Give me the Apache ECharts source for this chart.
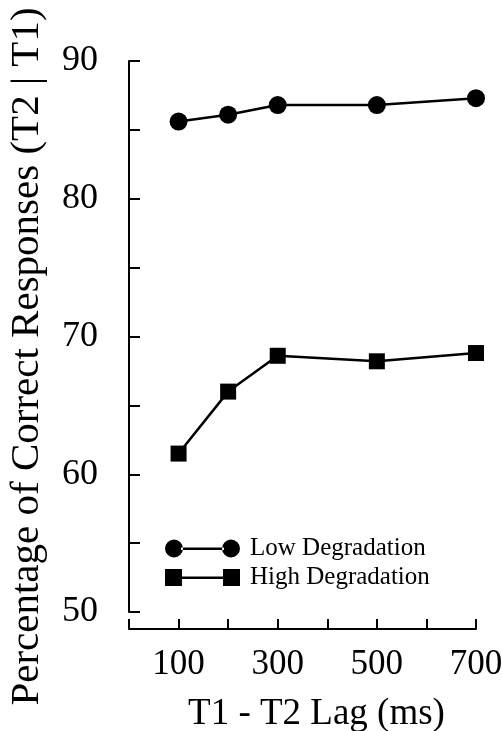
<!DOCTYPE html>
<html>
<head>
<meta charset="utf-8">
<script src="https://cdn.jsdelivr.net/npm/echarts@6/dist/echarts.min.js"></script>
<style>
  html, body { margin: 0; padding: 0; background: #fff; }
  #chart { width: 502px; height: 731px; }
</style>
</head>
<body>
<div id="chart"></div>
<script>
// lag values (ms) and percentage correct
var lags = [100, 200, 300, 500, 700];
var lowDegradation = [85.6, 86.1, 86.8, 86.8, 87.3];
var highDegradation = [61.5, 66.0, 68.6, 68.2, 68.8];
var xLabelsShown = [100, 300, 500, 700];
var yLabelsShown = [50, 60, 70, 80, 90];

var serif = 'Liberation Serif';

function pairs(xs, ys) {
  return xs.map(function (x, i) { return [x, ys[i]]; });
}

// legend icons: marker - line - marker
var circleIcon = 'path://M0,9 a9,9 0 1,0 18,0 a9,9 0 1,0 -18,0 Z M57,9 a9,9 0 1,0 18,0 a9,9 0 1,0 -18,0 Z M16,8 h43 v2.5 h-43 Z';
var squareIcon = 'path://M0,1 h17 v17 h-17 Z M58,1 h17 v17 h-17 Z M15,8.5 h45 v2.5 h-45 Z';

var chart = echarts.init(document.getElementById('chart'));
var option = {
  animation: false,
  backgroundColor: '#fff',
  grid: { left: 129, right: 26, top: 61, bottom: 119, outerBoundsMode: 'none', containLabel: false },
  legend: {
    orient: 'vertical',
    left: 160,
    top: 531,
    padding: 5,
    itemWidth: 75,
    itemHeight: 18,
    itemGap: 4,
    textStyle: { fontFamily: serif, fontSize: 25, color: '#000', padding: [0, 0, 0, 5] },
    data: [
      { name: 'Low Degradation', icon: circleIcon },
      { name: 'High Degradation', icon: squareIcon }
    ]
  },
  xAxis: {
    type: 'value',
    min: 0,
    max: 700,
    interval: 100,
    offset: 17,
    name: 'T1 - T2 Lag (ms)',
    nameLocation: 'middle',
    nameGap: 67,
    nameTextStyle: { fontFamily: serif, fontSize: 37, color: '#000', padding: [0, 0, 0, 28] },
    axisLine: { lineStyle: { color: '#000', width: 2 } },
    axisTick: { inside: true, length: 10, lineStyle: { color: '#000', width: 2 } },
    axisLabel: {
      margin: 18,
      fontFamily: serif, fontSize: 35, color: '#000',
      formatter: function (v) { return xLabelsShown.indexOf(v) >= 0 ? String(v) : ''; }
    },
    splitLine: { show: false }
  },
  yAxis: {
    type: 'value',
    min: 50,
    max: 90,
    interval: 5,
    offset: 9,
    name: 'Percentage of Correct Responses (T2 | T1)',
    nameLocation: 'middle',
    nameGap: 72,
    nameTextStyle: { fontFamily: serif, fontSize: 41, color: '#000', padding: [0, 40, 0, 0] },
    axisLine: { lineStyle: { color: '#000', width: 2 } },
    axisTick: { inside: true, length: 11, lineStyle: { color: '#000', width: 2 } },
    axisLabel: {
      margin: 22,
      fontFamily: serif, fontSize: 36, color: '#000',
      formatter: function (v) { return yLabelsShown.indexOf(v) >= 0 ? String(v) : ''; }
    },
    splitLine: { show: false }
  },
  series: [
    {
      name: 'Low Degradation',
      type: 'line',
      data: pairs(lags, lowDegradation),
      symbol: 'circle',
      symbolSize: 18,
      itemStyle: { color: '#000' },
      lineStyle: { color: '#000', width: 2.5 }
    },
    {
      name: 'High Degradation',
      type: 'line',
      data: pairs(lags, highDegradation),
      symbol: 'rect',
      symbolSize: 16,
      itemStyle: { color: '#000' },
      lineStyle: { color: '#000', width: 2.5 }
    }
  ]
};
chart.setOption(option);
</script>
</body>
</html>
